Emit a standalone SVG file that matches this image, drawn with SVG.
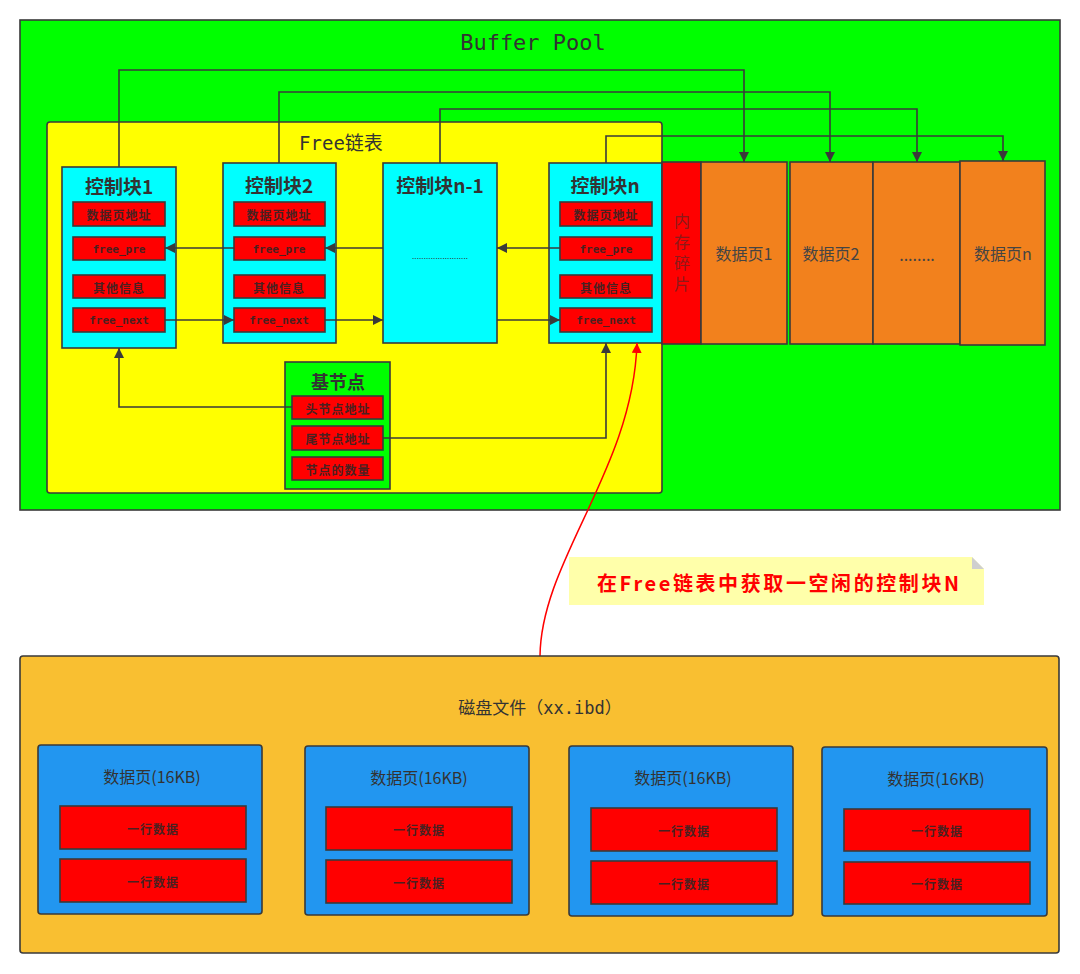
<svg xmlns="http://www.w3.org/2000/svg" width="1080" height="974" viewBox="0 0 1080 974">
<style>
.stk{stroke:#3a3a3a;stroke-width:1.6}
.cb{fill:#00ffff}
.it{fill:#ff0000}
.t{font-family:"Noto Sans CJK SC","Noto Sans",sans-serif;fill:#333;text-anchor:middle;dominant-baseline:central}
.ttl{font-size:19px;font-weight:bold;fill:#333}
.itx{font-size:12px;fill:#4a2020;font-weight:bold;letter-spacing:1px}
.mono{font-family:"DejaVu Sans Mono","Noto Sans CJK SC",monospace}
.mtx{font-size:11px;letter-spacing:0}
.pg{fill:#f2811d}
.pgt{font-size:16px;fill:#444}
.conn{fill:none;stroke:#3a3a3a;stroke-width:1.6}
.blue{fill:#2296f0}
.dpt{font-size:16px}
</style>
<defs>
<marker id="ah" viewBox="0 0 10 10" refX="10" refY="5" markerWidth="10" markerHeight="10" markerUnits="userSpaceOnUse" orient="auto">
<path d="M0,0 L10,5 L0,10 z" fill="#3a3a3a"/>
</marker>
<marker id="ahr" viewBox="0 0 10 10" refX="10" refY="5" markerWidth="10" markerHeight="10" markerUnits="userSpaceOnUse" orient="auto">
<path d="M0,0 L10,5 L0,10 z" fill="#ff0000"/>
</marker>
</defs>
<rect width="1080" height="974" fill="#ffffff"/>

<g id="buffer-pool">
<rect x="20" y="20" width="1040" height="490" fill="#00ff00" class="stk"/>
<text x="533" y="42" class="t mono" style="font-size:22px">Buffer Pool</text>
</g>

<g id="free-list">
<rect x="47" y="122" width="615" height="371" rx="3" fill="#ffff00" class="stk"/>
<text x="341" y="143" class="t mono" style="font-size:19px">Free链表</text>
</g>

<g id="block1">
<rect x="62" y="167" width="114" height="181" class="cb stk"/>
<text x="119" y="185" class="t ttl">控制块1</text>
<rect x="73" y="202" width="92" height="24" class="it stk"/>
<text x="119" y="214" class="t itx">数据页地址</text>
<rect x="73" y="237" width="92" height="23" class="it stk"/>
<text x="119" y="249" class="t itx mono mtx">free_pre</text>
<rect x="73" y="275" width="92" height="23" class="it stk"/>
<text x="119" y="287" class="t itx">其他信息</text>
<rect x="73" y="308" width="92" height="24" class="it stk"/>
<text x="119" y="320" class="t itx mono mtx">free_next</text>
</g>

<g id="block2">
<rect x="223" y="163" width="113" height="180" class="cb stk"/>
<text x="279" y="184" class="t ttl">控制块2</text>
<rect x="234" y="202" width="91" height="24" class="it stk"/>
<text x="279" y="214" class="t itx">数据页地址</text>
<rect x="234" y="237" width="91" height="23" class="it stk"/>
<text x="279" y="249" class="t itx mono mtx">free_pre</text>
<rect x="234" y="275" width="91" height="23" class="it stk"/>
<text x="279" y="287" class="t itx">其他信息</text>
<rect x="234" y="308" width="91" height="24" class="it stk"/>
<text x="279" y="320" class="t itx mono mtx">free_next</text>
</g>

<g id="block-n-1">
<rect x="383" y="163" width="114" height="180" class="cb stk"/>
<text x="440" y="184" class="t ttl">控制块n-1</text>
<text x="440" y="255" class="t" style="font-size:8px" textLength="56" lengthAdjust="spacing">........................</text>
</g>

<g id="block-n">
<rect x="549" y="163" width="113" height="180" class="cb stk"/>
<text x="605" y="184" class="t ttl">控制块n</text>
<rect x="560" y="202" width="92" height="24" class="it stk"/>
<text x="606" y="214" class="t itx">数据页地址</text>
<rect x="560" y="237" width="92" height="23" class="it stk"/>
<text x="606" y="249" class="t itx mono mtx">free_pre</text>
<rect x="560" y="275" width="92" height="23" class="it stk"/>
<text x="606" y="287" class="t itx">其他信息</text>
<rect x="560" y="308" width="92" height="24" class="it stk"/>
<text x="606" y="320" class="t itx mono mtx">free_next</text>
</g>

<g id="fragment">
<rect x="662" y="162" width="39" height="182" fill="#ff0000" class="stk"/>
<text x="682" y="213" writing-mode="vertical-rl" style="font-family:'Noto Sans CJK SC',sans-serif;font-size:16px;fill:#8b1a1a;letter-spacing:5px">内存碎片</text>
</g>

<g id="page1">
<rect x="701" y="162" width="86" height="182" class="pg stk"/>
<text x="744" y="253" class="t pgt">数据页1</text>
</g>
<g id="page2">
<rect x="790" y="162" width="83" height="182" class="pg stk"/>
<text x="831" y="253" class="t pgt">数据页2</text>
</g>
<g id="page-dots">
<rect x="873" y="162" width="87" height="182" class="pg stk"/>
<text x="917" y="254" class="t pgt">........</text>
</g>
<g id="pagen">
<rect x="960" y="161" width="85" height="184" class="pg stk"/>
<text x="1003" y="253" class="t pgt">数据页n</text>
</g>

<g id="base-node">
<rect x="285" y="362" width="105" height="127" fill="#00ff00" class="stk"/>
<text x="338" y="381" class="t ttl" style="font-size:18px">基节点</text>
<rect x="292" y="396" width="91" height="23" class="it stk"/>
<text x="338" y="408" class="t itx">头节点地址</text>
<rect x="292" y="426" width="91" height="24" class="it stk"/>
<text x="338" y="438" class="t itx">尾节点地址</text>
<rect x="292" y="457" width="91" height="23" class="it stk"/>
<text x="338" y="469" class="t itx">节点的数量</text>
</g>

<g id="connectors">
<path class="conn" d="M119,167 V70 H744 V162" marker-end="url(#ah)"/>
<path class="conn" d="M279,163 V92 H830 V162" marker-end="url(#ah)"/>
<path class="conn" d="M440,163 V109 H917 V162" marker-end="url(#ah)"/>
<path class="conn" d="M606,163 V136 H1003 V161" marker-end="url(#ah)"/>
<path class="conn" d="M234,248 H165" marker-end="url(#ah)"/>
<path class="conn" d="M383,248 H325" marker-end="url(#ah)"/>
<path class="conn" d="M560,248 H497" marker-end="url(#ah)"/>
<path class="conn" d="M165,320 H234" marker-end="url(#ah)"/>
<path class="conn" d="M325,320 H383" marker-end="url(#ah)"/>
<path class="conn" d="M497,320 H560" marker-end="url(#ah)"/>
<path class="conn" d="M292,407 H119 V348" marker-end="url(#ah)"/>
<path class="conn" d="M383,438 H606 V343" marker-end="url(#ah)"/>
<path d="M540,656 C541,560 633,470 637,343" fill="none" stroke="#ff0000" stroke-width="1.5" marker-end="url(#ahr)"/>
</g>

<g id="note">
<path d="M569,557 H972 L984,569 V605 H569 Z" fill="#ffffaa"/>
<path d="M972,557 L984,569 H972 Z" fill="#cfcfcf"/>
<text x="778" y="582" class="t" style="font-size:20px;font-weight:bold;fill:#ff0000" textLength="362" lengthAdjust="spacing">在Free链表中获取一空闲的控制块N</text>
</g>

<g id="disk">
<rect x="20" y="656" width="1039" height="297" rx="3" fill="#f9bf31" class="stk"/>
<text x="540" y="708" class="t mono" style="font-size:17px">磁盘文件（xx.ibd）</text>
</g>

<g id="disk-page1">
<rect x="38" y="745" width="224" height="169" rx="3" class="blue stk"/>
<text x="152" y="776" class="t dpt">数据页(16KB)</text>
<rect x="60" y="806" width="186" height="43" class="it stk"/>
<text x="153" y="828" class="t itx">一行数据</text>
<rect x="60" y="859" width="186" height="43" class="it stk"/>
<text x="153" y="881" class="t itx">一行数据</text>
</g>
<g id="disk-page2">
<rect x="305" y="746" width="224" height="169" rx="3" class="blue stk"/>
<text x="419" y="777" class="t dpt">数据页(16KB)</text>
<rect x="326" y="807" width="186" height="43" class="it stk"/>
<text x="419" y="829" class="t itx">一行数据</text>
<rect x="326" y="860" width="186" height="43" class="it stk"/>
<text x="419" y="882" class="t itx">一行数据</text>
</g>
<g id="disk-page3">
<rect x="569" y="746" width="224" height="170" rx="3" class="blue stk"/>
<text x="683" y="777" class="t dpt">数据页(16KB)</text>
<rect x="591" y="808" width="186" height="43" class="it stk"/>
<text x="684" y="830" class="t itx">一行数据</text>
<rect x="591" y="861" width="186" height="43" class="it stk"/>
<text x="684" y="883" class="t itx">一行数据</text>
</g>
<g id="disk-page4">
<rect x="822" y="747" width="225" height="169" rx="3" class="blue stk"/>
<text x="936" y="778" class="t dpt">数据页(16KB)</text>
<rect x="844" y="809" width="186" height="42" class="it stk"/>
<text x="937" y="830" class="t itx">一行数据</text>
<rect x="844" y="862" width="186" height="42" class="it stk"/>
<text x="937" y="883" class="t itx">一行数据</text>
</g>
</svg>
